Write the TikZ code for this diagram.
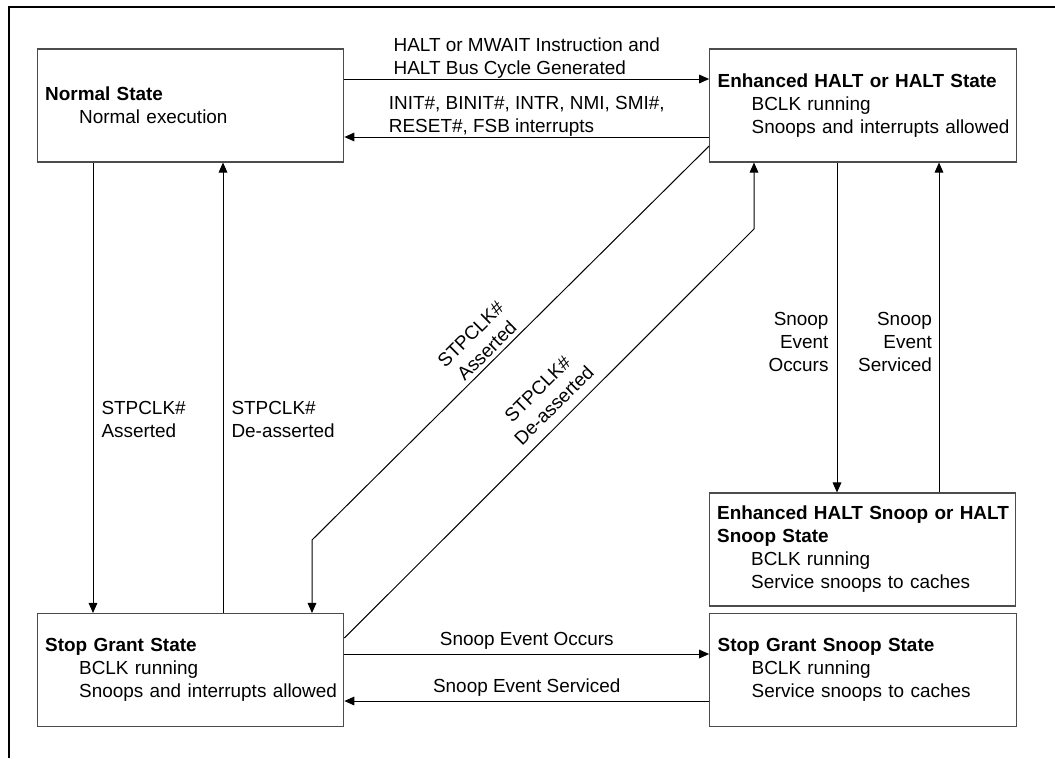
\documentclass[tikz,border=0pt]{standalone}
\usepackage{fontspec}
\setmainfont{Liberation Sans}
\usetikzlibrary{shapes,arrows.meta,positioning}

\newcommand{\mainfs}{\fontsize{14.2}{17.25}\selectfont}
\newcommand{\sline}[1]{\\\hspace*{25.5pt}\mbox{#1}}

\tikzset{
  statebox/.style={draw=black!70, line width=0.8pt, rectangle, text width=218pt,
    inner xsep=6pt, minimum height=84.75pt, align=left, font=\mainfs},
  trans/.style={draw, line width=0.75pt, -{Triangle[length=7.5pt,width=6.5pt]}},
  lbl/.style={font=\mainfs, inner sep=3pt},
}

\begin{document}
\begin{tikzpicture}[x=0.75pt, y=-0.75pt]
\useasboundingbox (0,0) rectangle (1055,758);
% frame
\draw[line width=1.6pt] (9,758) -- (9,7) -- (1055,7);

% states
\node[statebox] (normal) at (190.5,105.5) {\textbf{Normal State}\sline{Normal execution}};
\node[statebox] (halt) at (863,105.5) {\textbf{Enhanced HALT or HALT State}\sline{BCLK running}\sline{Snoops and interrupts allowed}};
\node[statebox] (haltsnoop) at (862.5,549.5) {\mbox{\textbf{Enhanced HALT Snoop or HALT}}\\\textbf{Snoop State}\sline{BCLK running}\sline{Service snoops to caches}};
\node[statebox] (stopgrant) at (190.5,670) {\textbf{Stop Grant State}\sline{BCLK running}\sline{Snoops and interrupts allowed}};
\node[statebox] (sgsnoop) at (863,670) {\textbf{Stop Grant Snoop State}\sline{BCLK running}\sline{Service snoops to caches}};

% normal <-> halt
\draw[trans] (normal.east |- 0,79) -- (halt.west |- 0,79)
  node[lbl, midway, above, yshift=-3pt, align=left] {HALT or MWAIT Instruction and\\HALT Bus Cycle Generated};
\draw[trans] (halt.west |- 0,137) -- (normal.east |- 0,137)
  node[lbl, midway, above, yshift=-3pt, align=left] {INIT\#, BINIT\#, INTR, NMI, SMI\#,\\RESET\#, FSB interrupts};

% normal <-> stop grant
\draw[trans] (93,0 |- normal.south) -- (93,0 |- stopgrant.north)
  node[lbl, pos=0.57, right, inner xsep=6pt, align=left] {STPCLK\#\\Asserted};
\draw[trans] (223,0 |- stopgrant.north) -- (223,0 |- normal.south)
  node[lbl, pos=0.43, right, inner xsep=6pt, align=left] {STPCLK\#\\De-asserted};

% halt <-> stop grant
\draw[trans] (halt.west |- 0,146) -- node[lbl, sloped, above, pos=0.54, align=center] {STPCLK\#\\Asserted}
  (312,540) -- (312,0 |- stopgrant.north);
\draw[trans] (stopgrant.east |- 0,638) -- node[lbl, sloped, above=4pt, pos=0.54, align=center] {STPCLK\#\\De-asserted}
  (754,229) -- (754,0 |- halt.south);

% halt <-> halt snoop
\draw[trans] (837,0 |- halt.south) -- (837,0 |- haltsnoop.north)
  node[lbl, pos=0.544, left, inner xsep=6pt, align=right] {Snoop\\Event\\Occurs};
\draw[trans] (939,0 |- haltsnoop.north) -- (939,0 |- halt.south)
  node[lbl, pos=0.456, left, inner xsep=5pt, align=right] {Snoop\\Event\\Serviced};

% stop grant <-> stop grant snoop
\draw[trans] (stopgrant.east |- 0,654) -- (sgsnoop.west |- 0,654)
  node[lbl, midway, above] {Snoop Event Occurs};
\draw[trans] (sgsnoop.west |- 0,701) -- (stopgrant.east |- 0,701)
  node[lbl, midway, above] {Snoop Event Serviced};
\end{tikzpicture}
\end{document}
